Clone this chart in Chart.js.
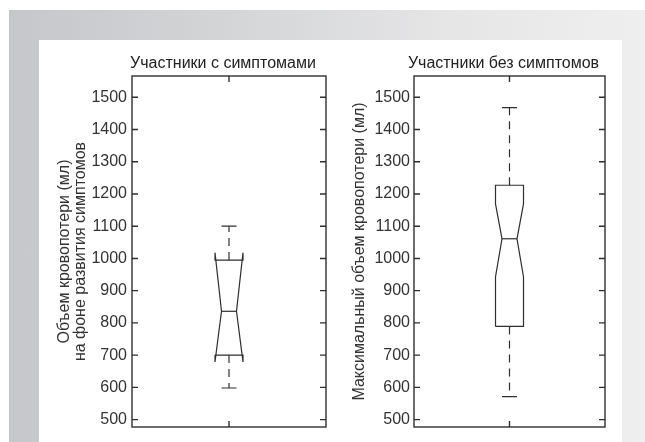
<!DOCTYPE html>
<html>
<head>
<meta charset="utf-8">
<script src="https://cdn.jsdelivr.net/npm/chart.js@4.4.1/dist/chart.umd.min.js"></script>
<style>
  html, body { margin: 0; padding: 0; background: #fff; }
  #page { position: relative; width: 645px; height: 442px; overflow: hidden; }
  #band { position: absolute; left: 9px; top: 10px; width: 636px; height: 432px;
          background: linear-gradient(to right, #c6c7ca 0%, #d4d5d7 35%, #e6e6e7 70%, #efefef 100%); }
  #panel { position: absolute; left: 39px; top: 40px; width: 583px; height: 402px; background: #fff; }
  canvas { position: absolute; }
</style>
</head>
<body>
<div id="page">
  <div id="band"></div>
  <div id="panel"></div>
  <canvas id="chartLeft" width="291" height="402" style="left:39px; top:40px;"></canvas>
  <canvas id="chartRight" width="292" height="402" style="left:330px; top:40px;"></canvas>
</div>
<script>
// Данные
const groups = ['Участники с симптомами', 'Участники без симптомов'];
const yTitles = [['Объем кровопотери (мл)', 'на фоне развития симптомов'], 'Максимальный объем кровопотери (мл)'];
const yTicks = [500, 600, 700, 800, 900, 1000, 1100, 1200, 1300, 1400, 1500];
const lowerWhisker = [598, 571];
const lowerQuartile = [700, 789];
const notchLow = [679, 943];
const medians = [836, 1061];
const notchHigh = [1018, 1169];
const upperQuartile = [995, 1227];
const upperWhisker = [1100, 1468];

const FONT = "'Liberation Sans', Arial, sans-serif";
const INK = '#2f2f2f';

// Рамка осей с внутренними засечками и заголовок
const framePlugin = {
    id: 'frame',
    afterDraw(chart, args, opts) {
        const { ctx, chartArea: a, scales: { x, y } } = chart;
        const t = 6;
        ctx.save();
        ctx.strokeStyle = INK;
        ctx.lineWidth = 1.4;
        ctx.strokeRect(a.left, a.top, a.right - a.left, a.bottom - a.top);
        ctx.beginPath();
        y.ticks.forEach(tk => {
            const py = y.getPixelForValue(tk.value);
            ctx.moveTo(a.left, py); ctx.lineTo(a.left + t, py);
            ctx.moveTo(a.right, py); ctx.lineTo(a.right - t, py);
        });
        const cx = x.getPixelForValue(0);
        ctx.moveTo(cx, a.top); ctx.lineTo(cx, a.top + t);
        ctx.moveTo(cx, a.bottom); ctx.lineTo(cx, a.bottom - t);
        ctx.stroke();
        // заголовок
        ctx.fillStyle = '#222';
        ctx.font = '16px ' + FONT;
        ctx.textAlign = 'center';
        ctx.textBaseline = 'alphabetic';
        ctx.fillText(opts.text, (a.left + a.right) / 2 - 6, a.top - 8);
        ctx.restore();
    }
};

// Ящик с выемкой
const notchBoxPlugin = {
    id: 'notchBox',
    afterDatasetsDraw(chart, args, opts) {
        const i = opts.index;
        const { ctx, scales: { x, y } } = chart;
        const cx = x.getPixelForValue(0);
        const half = 14, notchHalf = 7.5, capHalf = 7.5;
        const py = v => y.getPixelForValue(v);
        ctx.save();
        ctx.strokeStyle = INK;
        ctx.lineWidth = 1.2;
        // усы
        ctx.setLineDash([8, 6]);
        ctx.beginPath();
        ctx.moveTo(cx, py(upperQuartile[i])); ctx.lineTo(cx, py(upperWhisker[i]));
        ctx.moveTo(cx, py(lowerQuartile[i])); ctx.lineTo(cx, py(lowerWhisker[i]));
        ctx.stroke();
        ctx.setLineDash([]);
        ctx.beginPath();
        ctx.moveTo(cx - capHalf, py(upperWhisker[i])); ctx.lineTo(cx + capHalf, py(upperWhisker[i]));
        ctx.moveTo(cx - capHalf, py(lowerWhisker[i])); ctx.lineTo(cx + capHalf, py(lowerWhisker[i]));
        ctx.stroke();
        // контур
        const xs = [-half, -half, -notchHalf, -half, -half, half, half, notchHalf, half, half, -half];
        const ys = [lowerQuartile[i], notchLow[i], medians[i], notchHigh[i], upperQuartile[i],
                    upperQuartile[i], notchHigh[i], medians[i], notchLow[i], lowerQuartile[i], lowerQuartile[i]];
        ctx.beginPath();
        xs.forEach((dx, k) => {
            if (k === 0) ctx.moveTo(cx + dx, py(ys[k]));
            else ctx.lineTo(cx + dx, py(ys[k]));
        });
        ctx.stroke();
        // медиана
        ctx.beginPath();
        ctx.moveTo(cx - notchHalf, py(medians[i])); ctx.lineTo(cx + notchHalf, py(medians[i]));
        ctx.stroke();
        ctx.restore();
    }
};

function makeChart(canvasId, i, axisWidth, rightPad, titlePad, tickPad) {
    const ctx = document.getElementById(canvasId).getContext('2d');
    return new Chart(ctx, {
        type: 'bar',
        data: {
            labels: [groups[i]],
            datasets: [{ data: [null] }]
        },
        options: {
            responsive: false,
            animation: false,
            layout: { padding: { left: 0, right: rightPad, top: 36, bottom: 15 } },
            plugins: {
                legend: { display: false },
                tooltip: { enabled: false },
                title: { display: false },
                frame: { text: groups[i] },
                notchBox: { index: i }
            },
            scales: {
                x: { display: false, offset: true },
                y: {
                    min: 477,
                    max: 1566,
                    afterBuildTicks: s => { s.ticks = yTicks.map(v => ({ value: v })); },
                    afterFit: s => { s.width = axisWidth; },
                    grid: { display: false, drawTicks: false },
                    border: { display: false },
                    ticks: {
                        color: '#333',
                        padding: tickPad,
                        font: { family: FONT, size: 16 },
                        callback: v => String(v)
                    },
                    title: {
                        display: true,
                        text: yTitles[i],
                        color: '#333',
                        font: { family: FONT, size: 16, lineHeight: 1.0 },
                        padding: { top: titlePad, bottom: 0 }
                    }
                }
            }
        },
        plugins: [framePlugin, notchBoxPlugin]
    });
}

makeChart('chartLeft', 0, 93, 4, 18, 5);
makeChart('chartRight', 1, 84, 17, 22, 4);
</script>
</body>
</html>
